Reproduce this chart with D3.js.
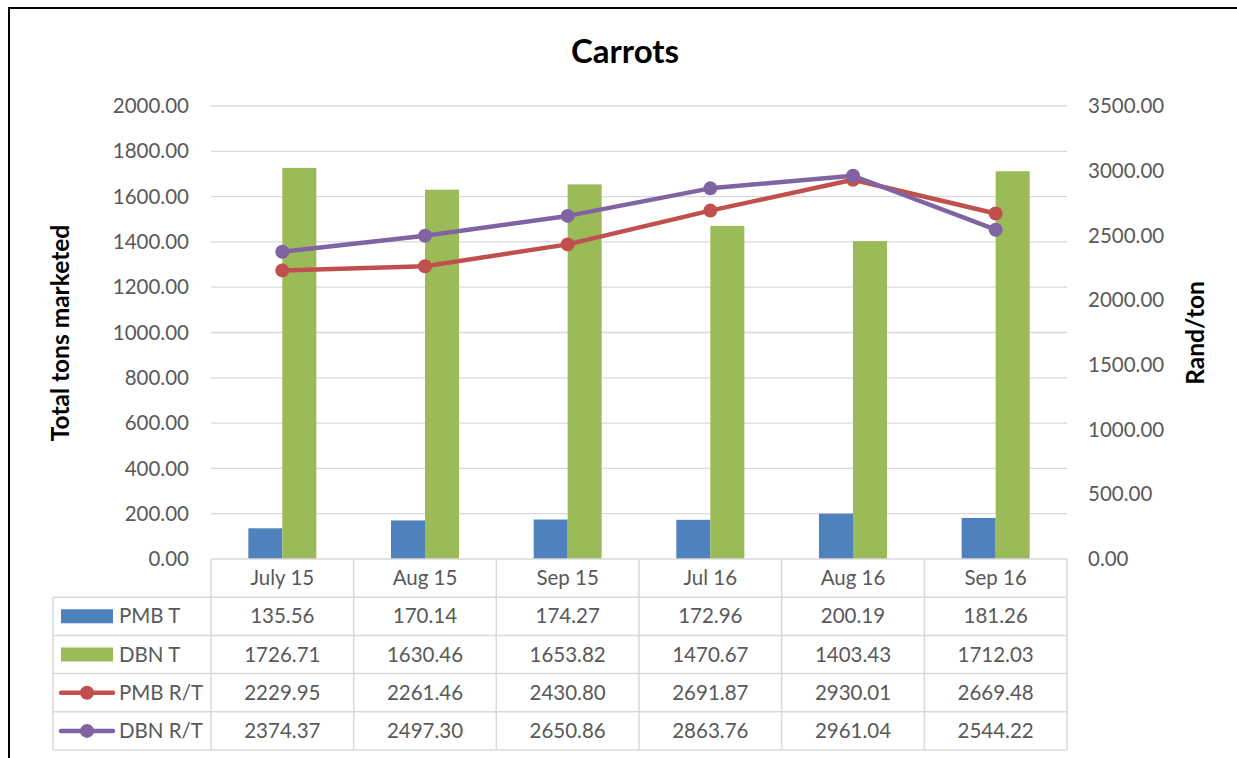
<!DOCTYPE html>
<html>
<head>
<meta charset="utf-8">
<script src="https://cdn.jsdelivr.net/npm/d3@7"></script>
<style>
  body { margin: 0; background: #fff; }
  text { font-family: Lato, "Open Sans", sans-serif; }
</style>
</head>
<body>
<svg id="chart" width="1237" height="758"></svg>
<script>
// data
const categories = ["July 15", "Aug 15", "Sep 15", "Jul 16", "Aug 16", "Sep 16"];
const pmbTons = [135.56, 170.14, 174.27, 172.96, 200.19, 181.26];
const dbnTons = [1726.71, 1630.46, 1653.82, 1470.67, 1403.43, 1712.03];
const pmbRand = [2229.95, 2261.46, 2430.80, 2691.87, 2930.01, 2669.48];
const dbnRand = [2374.37, 2497.30, 2650.86, 2863.76, 2961.04, 2544.22];
const leftTicks = [0, 200, 400, 600, 800, 1000, 1200, 1400, 1600, 1800, 2000];
const rightTicks = [0, 500, 1000, 1500, 2000, 2500, 3000, 3500];

const series = [
    {name: "PMB T", type: "bar", values: pmbTons, color: "#4F81BD"},
    {name: "DBN T", type: "bar", values: dbnTons, color: "#9BBB59"},
    {name: "PMB R/T", type: "line", values: pmbRand, color: "#C0504D"},
    {name: "DBN R/T", type: "line", values: dbnRand, color: "#8064A2"}
];

const svg = d3.select("#chart");
const plotLeft = 211, plotRight = 1067, plotTop = 106, plotBottom = 559;
const gridCol = "#d9d9d9", textCol = "#595959";
const fs = 20.5;

// outer frame (cut off at right and bottom in the original)
svg.append("path")
    .attr("d", "M9,760 L9,8 L1240,8")
    .attr("fill", "none").attr("stroke", "#000").attr("stroke-width", 2);

const x = d3.scaleBand().domain(categories).range([plotLeft, plotRight]);
const yL = d3.scaleLinear().domain([0, 2000]).range([plotBottom, plotTop]);
const yR = d3.scaleLinear().domain([0, 3500]).range([plotBottom, plotTop]);

// gridlines
svg.append("g").selectAll("line").data(leftTicks.slice(1)).join("line")
    .attr("x1", plotLeft).attr("x2", plotRight)
    .attr("y1", d => yL(d)).attr("y2", d => yL(d))
    .attr("stroke", gridCol).attr("stroke-width", 1.3);

// tick labels
svg.append("g").selectAll("text").data(leftTicks).join("text")
    .attr("x", 189).attr("y", d => yL(d)).attr("dy", "0.35em")
    .attr("text-anchor", "end").attr("font-size", fs).attr("fill", textCol)
    .text(d => d.toFixed(2));
svg.append("g").selectAll("text").data(rightTicks).join("text")
    .attr("x", 1088).attr("y", d => yR(d)).attr("dy", "0.35em")
    .attr("text-anchor", "start").attr("font-size", fs).attr("fill", textCol)
    .text(d => d.toFixed(2));

// bars
const barW = 34;
series.filter(s => s.type === "bar").forEach((s, i) => {
    svg.append("g").selectAll("rect").data(s.values).join("rect")
        .attr("x", (d, j) => x(categories[j]) + x.bandwidth() / 2 - barW + i * barW)
        .attr("width", barW)
        .attr("y", d => yL(d))
        .attr("height", d => plotBottom - yL(d))
        .attr("fill", s.color);
});

// lines
const cx = (d, j) => x(categories[j]) + x.bandwidth() / 2;
series.filter(s => s.type === "line").forEach(s => {
    const line = d3.line().x(cx).y(d => yR(d));
    svg.append("path").datum(s.values)
        .attr("d", line)
        .attr("fill", "none").attr("stroke", s.color)
        .attr("stroke-width", 4.5).attr("stroke-linejoin", "round").attr("stroke-linecap", "round");
    svg.append("g").selectAll("circle").data(s.values).join("circle")
        .attr("cx", cx).attr("cy", d => yR(d)).attr("r", 7)
        .attr("fill", s.color);
});

// data table
const rowH = 38.2;
const tableLeft = 53;
const tbl = svg.append("g");
// axis line / header top
tbl.append("line").attr("x1", plotLeft).attr("x2", plotRight).attr("y1", plotBottom).attr("y2", plotBottom)
    .attr("stroke", gridCol).attr("stroke-width", 1.5);
// horizontal rules
d3.range(1, 6).forEach(r => {
    tbl.append("line").attr("x1", tableLeft).attr("x2", plotRight)
        .attr("y1", plotBottom + r * rowH).attr("y2", plotBottom + r * rowH)
        .attr("stroke", gridCol).attr("stroke-width", 1.5);
});
// vertical rules
categories.concat([null]).forEach(c => {
    const xx = c === null ? plotRight : x(c);
    tbl.append("line").attr("x1", xx).attr("x2", xx)
        .attr("y1", plotBottom).attr("y2", plotBottom + 5 * rowH)
        .attr("stroke", gridCol).attr("stroke-width", 1.5);
});
tbl.append("line").attr("x1", tableLeft).attr("x2", tableLeft)
    .attr("y1", plotBottom + rowH).attr("y2", plotBottom + 5 * rowH)
    .attr("stroke", gridCol).attr("stroke-width", 1.5);

// header labels
tbl.selectAll("text.cat").data(categories).join("text")
    .attr("class", "cat")
    .attr("x", d => x(d) + x.bandwidth() / 2).attr("y", plotBottom + rowH / 2).attr("dy", "0.35em")
    .attr("text-anchor", "middle").attr("font-size", fs).attr("fill", textCol)
    .text(d => d);

series.forEach((s, r) => {
    const yc = plotBottom + (r + 1.5) * rowH;
    tbl.append("g").selectAll("text").data(s.values).join("text")
        .attr("x", (d, j) => x(categories[j]) + x.bandwidth() / 2)
        .attr("y", yc).attr("dy", "0.35em")
        .attr("text-anchor", "middle").attr("font-size", fs).attr("fill", textCol)
        .text(d => d.toFixed(2));
    // legend key
    if (s.type === "bar") {
        tbl.append("rect").attr("x", 61).attr("y", yc - 7).attr("width", 52).attr("height", 14)
            .attr("fill", s.color);
    } else {
        tbl.append("line").attr("x1", 61).attr("x2", 113).attr("y1", yc).attr("y2", yc)
            .attr("stroke", s.color).attr("stroke-width", 4.5).attr("stroke-linecap", "round");
        tbl.append("circle").attr("cx", 87).attr("cy", yc).attr("r", 7).attr("fill", s.color);
    }
    tbl.append("text").attr("x", 119).attr("y", yc).attr("dy", "0.35em")
        .attr("font-size", fs).attr("fill", textCol).text(s.name);
});

// titles
svg.append("text").attr("x", 625).attr("y", 51).attr("dy", "0.35em")
    .attr("text-anchor", "middle").attr("font-size", 33).attr("font-weight", "bold")
    .attr("fill", "#000").text("Carrots");
svg.append("text")
    .attr("transform", "translate(60,333) rotate(-90)").attr("dy", "0.35em")
    .attr("text-anchor", "middle").attr("font-size", 24.5).attr("font-weight", "bold")
    .attr("fill", "#000").text("Total tons marketed");
svg.append("text")
    .attr("transform", "translate(1195,333) rotate(-90)").attr("dy", "0.35em")
    .attr("text-anchor", "middle").attr("font-size", 24.5).attr("font-weight", "bold")
    .attr("fill", "#000").text("Rand/ton");
</script>
</body>
</html>
